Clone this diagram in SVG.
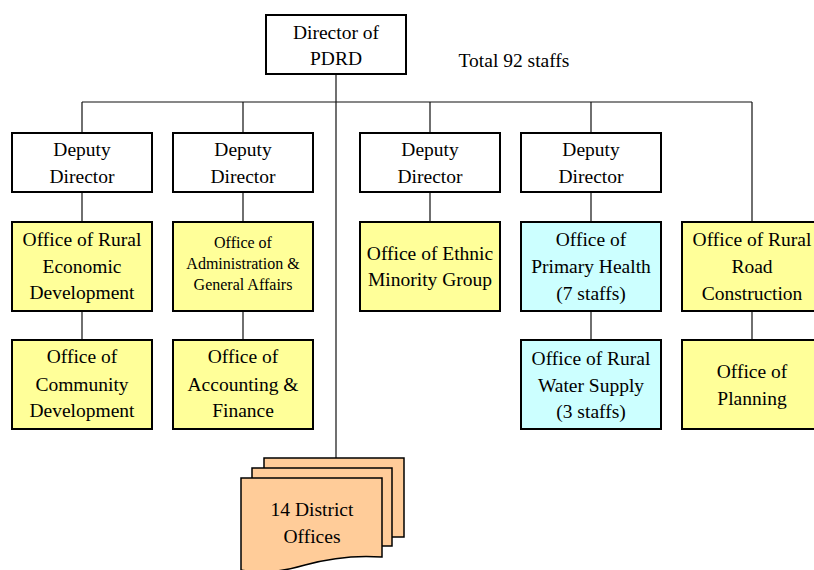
<svg xmlns="http://www.w3.org/2000/svg" width="814" height="570" viewBox="0 0 814 570">
  <style>
    text { font-family: "Liberation Serif", "Times New Roman", serif; font-size: 19.5px; fill: #000; text-anchor: middle; }
    .small { font-size: 16px; }
    .box { stroke: #000; stroke-width: 2; }
    .white { fill: #fff; }
    .yellow { fill: #ffff99; }
    .cyan { fill: #ccffff; }
    .doc { fill: #ffcc99; stroke: #000; stroke-width: 1.5; }
    .conn { stroke: #111; stroke-width: 1.2; fill: none; }
  </style>

  <!-- reporting lines -->
  <g id="connectors">
    <path class="conn" d="M336,74 V458"/>
    <path class="conn" d="M82,102 H752"/>
    <path class="conn" d="M82,102 V133 M243,102 V133 M430,102 V133 M591,102 V133 M752,102 V222"/>
    <path class="conn" d="M82,192 V222 M243,192 V222 M430,192 V222 M591,192 V222"/>
    <path class="conn" d="M82,311 V340 M243,311 V340 M591,311 V340 M752,311 V340"/>
  </g>

  <g id="director">
    <rect class="box white" x="266" y="15" width="140" height="59"/>
    <text x="336" y="39">Director of</text>
    <text x="336" y="65">PDRD</text>
  </g>

  <g id="total-staff">
    <text x="514" y="67">Total 92 staffs</text>
  </g>

  <g id="deputy-1">
    <rect class="box white" x="12" y="133" width="140" height="59"/>
    <text x="82" y="156">Deputy</text>
    <text x="82" y="183">Director</text>
  </g>
  <g id="deputy-2">
    <rect class="box white" x="173" y="133" width="140" height="59"/>
    <text x="243" y="156">Deputy</text>
    <text x="243" y="183">Director</text>
  </g>
  <g id="deputy-3">
    <rect class="box white" x="360" y="133" width="140" height="59"/>
    <text x="430" y="156">Deputy</text>
    <text x="430" y="183">Director</text>
  </g>
  <g id="deputy-4">
    <rect class="box white" x="521" y="133" width="140" height="59"/>
    <text x="591" y="156">Deputy</text>
    <text x="591" y="183">Director</text>
  </g>

  <g id="rural-economic">
    <rect class="box yellow" x="12" y="222" width="140" height="89"/>
    <text x="82" y="246">Office of Rural</text>
    <text x="82" y="273">Economic</text>
    <text x="82" y="299">Development</text>
  </g>
  <g id="administration">
    <rect class="box yellow" x="173" y="222" width="140" height="89"/>
    <text class="small" x="243" y="248">Office of</text>
    <text class="small" x="243" y="269">Administration &amp;</text>
    <text class="small" x="243" y="290">General Affairs</text>
  </g>
  <g id="ethnic-minority">
    <rect class="box yellow" x="360" y="222" width="140" height="89"/>
    <text x="430" y="260">Office of Ethnic</text>
    <text x="430" y="286">Minority Group</text>
  </g>
  <g id="primary-health">
    <rect class="box cyan" x="521" y="222" width="140" height="89"/>
    <text x="591" y="246">Office of</text>
    <text x="591" y="273">Primary Health</text>
    <text x="591" y="300">(7 staffs)</text>
  </g>
  <g id="rural-road">
    <rect class="box yellow" x="682" y="222" width="140" height="89"/>
    <text x="752" y="246">Office of Rural</text>
    <text x="752" y="273">Road</text>
    <text x="752" y="300">Construction</text>
  </g>

  <g id="community-development">
    <rect class="box yellow" x="12" y="340" width="140" height="89"/>
    <text x="82" y="363">Office of</text>
    <text x="82" y="391">Community</text>
    <text x="82" y="417">Development</text>
  </g>
  <g id="accounting-finance">
    <rect class="box yellow" x="173" y="340" width="140" height="89"/>
    <text x="243" y="363">Office of</text>
    <text x="243" y="391">Accounting &amp;</text>
    <text x="243" y="417">Finance</text>
  </g>
  <g id="rural-water">
    <rect class="box cyan" x="521" y="340" width="140" height="89"/>
    <text x="591" y="365">Office of Rural</text>
    <text x="591" y="392">Water Supply</text>
    <text x="591" y="418">(3 staffs)</text>
  </g>
  <g id="planning">
    <rect class="box yellow" x="682" y="340" width="140" height="89"/>
    <text x="752" y="378">Office of</text>
    <text x="752" y="405">Planning</text>
  </g>

  <!-- stacked document sheets -->
  <g id="district-offices">
    <path class="doc" d="M264,458 H404 V537 H264 Z"/>
    <path class="doc" d="M252,468 H392 V546 H252 Z"/>
    <path class="doc" d="M241,478 H382 V557 C355,555 330,558 305,565 C285,571 262,574 241,570 Z"/>
    <text x="312" y="516">14 District</text>
    <text x="312" y="543">Offices</text>
  </g>
</svg>
